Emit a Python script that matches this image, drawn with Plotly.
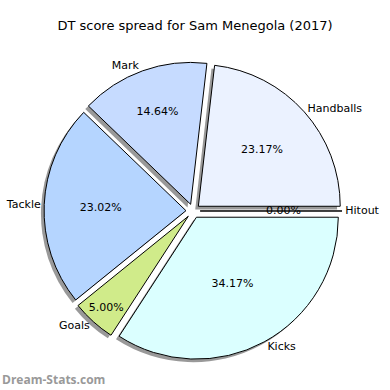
import math
import plotly.graph_objects as go

labels = ["Handballs", "Mark", "Tackle", "Goals", "Kicks", "Hitout"]
values = [23.17, 14.64, 23.02, 5.00, 34.17, 0.00]
colors = ["#EBF2FF", "#C6DBFF", "#B5D5FF", "#D0EB8A", "#DBFFFF", "#FFFFFF"]
title = "DT score spread for Sam Menegola (2017)"
watermark = "Dream-Stats.com"

plot_values = [v if v > 0 else 1e-6 for v in values]
total = sum(plot_values)
explode = 0.05
pull = [explode] * len(values)
# first slice starts at 3 o'clock and runs counterclockwise (matplotlib style)
rotation = 90 - 360 * plot_values[0] / total

cx, cy, half = 0.495, 0.459, 0.382
dom_x = [cx - half, cx + half]
dom_y = [cy - half, cy + half]
sx, sy = -0.008, -0.008

# percent texts; slices too thin for plotly's inside text get an annotation at 0.6 r
pct_text = ["%.2f%%" % v if v >= 1 else "" for v in values]

common = dict(labels=labels, values=plot_values, sort=False, direction="counterclockwise",
              rotation=rotation, pull=pull, hoverinfo="skip")

fig = go.Figure()
# shadow
fig.add_trace(go.Pie(**common, domain=dict(x=[dom_x[0] + sx, dom_x[1] + sx], y=[dom_y[0] + sy, dom_y[1] + sy]),
                     marker=dict(colors=["#999999"] * len(values), line=dict(width=0)),
                     textinfo="none", showlegend=False))
# slices with percentages
fig.add_trace(go.Pie(**common, domain=dict(x=dom_x, y=dom_y),
                     marker=dict(colors=colors, line=dict(color="black", width=1)),
                     text=pct_text, texttemplate="%{text}", textposition="inside",
                     insidetextorientation="horizontal",
                     textfont=dict(family="DejaVu Sans", size=11, color="black"),
                     showlegend=False))
# outside labels
fig.add_trace(go.Pie(**common, domain=dict(x=dom_x, y=dom_y),
                     marker=dict(colors=["rgba(0,0,0,0)"] * len(values), line=dict(width=0)),
                     texttemplate="%{label}", textposition="outside",
                     outsidetextfont=dict(family="DejaVu Sans", size=11, color="black"),
                     showlegend=False))

annotations = [dict(text="<b>" + watermark + "</b>", x=0.0, y=0.0, xref="paper", yref="paper",
                    xanchor="left", yanchor="bottom", showarrow=False,
                    font=dict(family="Open Sans", size=12, color="#999999"))]

r_frac = 0.357  # approximate rendered radius as fraction of figure size
start = 0.0
for v, pv in zip(values, plot_values):
    mid = start + 180 * pv / total
    if v < 1:
        ang = math.radians(mid)
        annotations.append(dict(text="%.2f%%" % v, xref="paper", yref="paper",
                                x=cx + (0.6 + explode) * r_frac * math.cos(ang),
                                y=cy + (0.6 + explode) * r_frac * math.sin(ang),
                                xanchor="center", yanchor="middle", showarrow=False,
                                font=dict(family="DejaVu Sans", size=11, color="black")))
    start += 360 * pv / total

fig.update_layout(
    width=390, height=390, margin=dict(l=0, r=0, t=0, b=0, autoexpand=False),
    paper_bgcolor="white", plot_bgcolor="white",
    title=dict(text=title, x=0.5, xanchor="center", y=0.935, yanchor="middle",
               font=dict(family="DejaVu Sans", size=13, color="black")),
    uniformtext=dict(minsize=11, mode="show"),
    annotations=annotations,
)
fig.write_html("out.html", config={"displayModeBar": False},
               post_script="document.body.style.margin='0px';")
